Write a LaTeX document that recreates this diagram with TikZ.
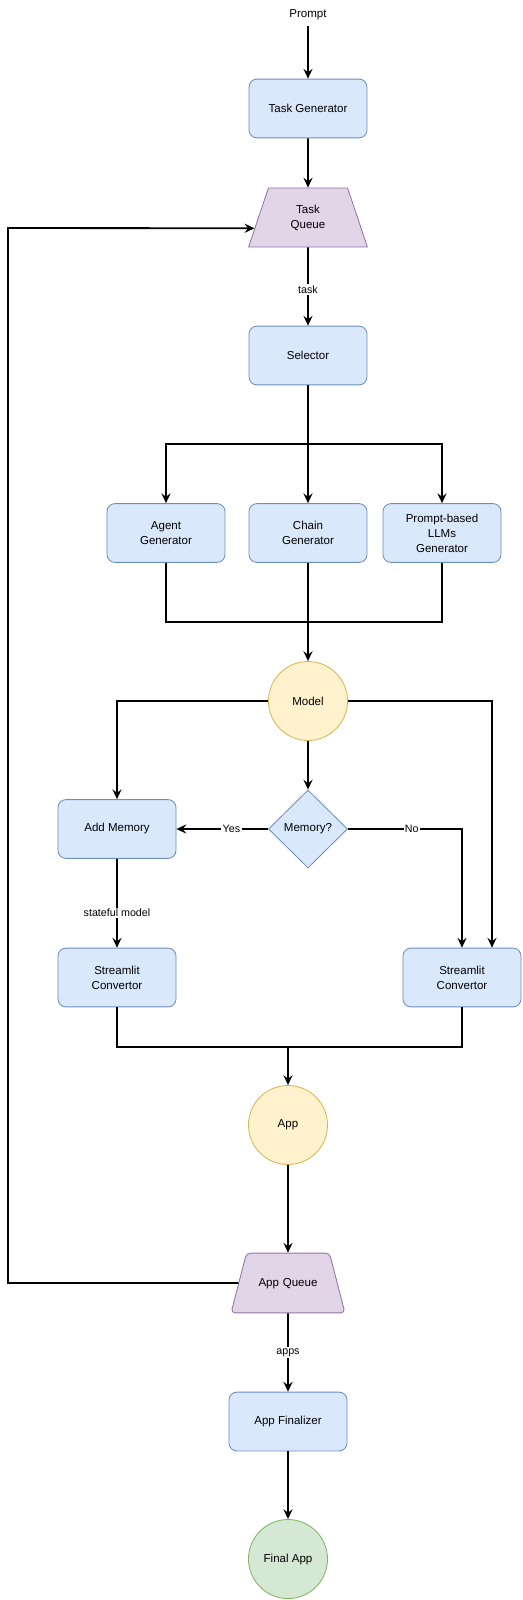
\documentclass[tikz,border=0pt]{standalone}
\usepackage{fontspec}
\setmainfont{Liberation Sans}
\usetikzlibrary{arrows.meta,positioning,shapes.geometric,calc}

\definecolor{boxfill}{HTML}{DAE8FC}
\definecolor{boxline}{HTML}{6C8EBF}
\definecolor{queuefill}{HTML}{E1D5E7}
\definecolor{queueline}{HTML}{9673A6}
\definecolor{modfill}{HTML}{FFF2CC}
\definecolor{modline}{HTML}{D6B656}
\definecolor{endfill}{HTML}{D5E8D4}
\definecolor{endline}{HTML}{82B366}

\begin{document}
\begin{tikzpicture}[x=0.025cm,y=-0.025cm,line width=1.3pt,
    >={Stealth[length=7pt,width=6.5pt,inset=2.5pt]},
    font=\fontsize{8.2}{10.6}\selectfont]
       \tikzstyle{proc}=[draw=boxline,fill=boxfill,line width=0.6pt,rounded corners=0.2cm,
                         minimum width=2.95cm,minimum height=1.47cm,align=center,inner sep=2pt]
       \tikzstyle{queue}=[trapezium,draw=queueline,fill=queuefill,
                          line width=0.6pt,align=center,inner sep=1pt]
       \tikzstyle{circ}=[circle,minimum size=1.975cm,inner sep=0pt,line width=0.6pt]
       \tikzstyle{decide}=[diamond,draw=boxline,fill=boxfill,line width=0.6pt,
                           minimum width=1.975cm,minimum height=1.95cm,inner sep=0pt]
       \tikzstyle{lbl}=[fill=white,inner sep=1pt,font=\fontsize{7.6}{9}\selectfont]

       \useasboundingbox (0,0) rectangle (522,1600);

       \node                 (prompt) at (308,15)    {Prompt};
       \node[proc]           (tgen)   at (308,108.5) {Task Generator};
       \node[queue,trapezium stretches=true,trapezium left angle=71.7,trapezium right angle=71.7,
             minimum width=2.975cm,minimum height=1.475cm]
                             (tqueue) at (308,217.5) {Task\\Queue};
       \node[proc]           (sel)    at (308,355.5) {Selector};

       \node[proc]           (agen)   at (166,533)   {Agent\\Generator};
       \node[proc]           (cgen)   at (308,533)   {Chain\\Generator};
       \node[proc]           (pgen)   at (442,533)   {Prompt-based\\LLMs\\Generator};

       \node[circ,draw=modline,fill=modfill] (model) at (308,701) {Model};
       \node[decide]         (mem)    at (308,829)   {Memory?};
       \node[proc]           (addmem) at (117,829)   {Add Memory};
       \node[proc]           (conv1)  at (117,977.5) {Streamlit\\Convertor};
       \node[proc]           (conv2)  at (462,977.5) {Streamlit\\Convertor};

       \node[circ,draw=modline,fill=modfill] (app) at (288,1125) {App};
       \node[queue,trapezium left angle=75.5,trapezium right angle=75.5,rounded corners=0.1cm,
             inner xsep=0pt,inner ysep=17.4pt,text width=2.075cm,text height=6pt,text depth=1.7pt]
                             (aqueue) at (288,1283)  {App Queue};
       \node[proc]           (afin)   at (288,1421.5) {App Finalizer};
       \node[circ,draw=endline,fill=endfill] (final) at (288,1559) {Final App};

       \coordinate (split) at (308,444);
       \coordinate (join)  at (308,622);
       \coordinate (join2) at (288,1047);
       \coordinate (fb)    at (8,228);

       \path[->]
       (prompt) edge (tgen)
       (tgen)   edge (tqueue)
       (tqueue) edge node[lbl,pos=0.54] {task} (sel)
       (model)  edge (mem)
       (addmem) edge node[lbl,pos=0.61] {stateful model} (conv1)
       (app)    edge (aqueue)
       (aqueue) edge node[lbl] {apps} (afin)
       (afin)   edge (final);

       % selector to the three generators
       \draw (sel.south) -- (split);
       \draw[->] (split) -| (agen.north);
       \draw[->] (split) -- (cgen.north);
       \draw[->] (split) -| (pgen.north);

       % generators back to the model
       \draw (agen.south) |- (join);
       \draw (pgen.south) |- (join);
       \draw[->] (cgen.south) -- (model.north);

       % model branches
       \draw[->] (model.west) -| (addmem.north);
       \draw[->] (model.east) -| ($(conv2.north)+(30,0)$);
       \draw[->] (mem.west) -- node[lbl,pos=0.40] {Yes} (addmem.east);
       \draw[->] (mem.east) -| node[lbl,pos=0.28] {No} (conv2.north);

       % convertors to the app
       \draw (conv1.south) |- (join2);
       \draw (conv2.south) |- (join2);
       \draw[->] (join2) -- (app.north);

       % feedback loop
       \draw[->] (aqueue.west) -| (fb)
                 -- ($(tqueue.bottom left corner)!0.32!(tqueue.top left corner)$);
\end{tikzpicture}
\end{document}
